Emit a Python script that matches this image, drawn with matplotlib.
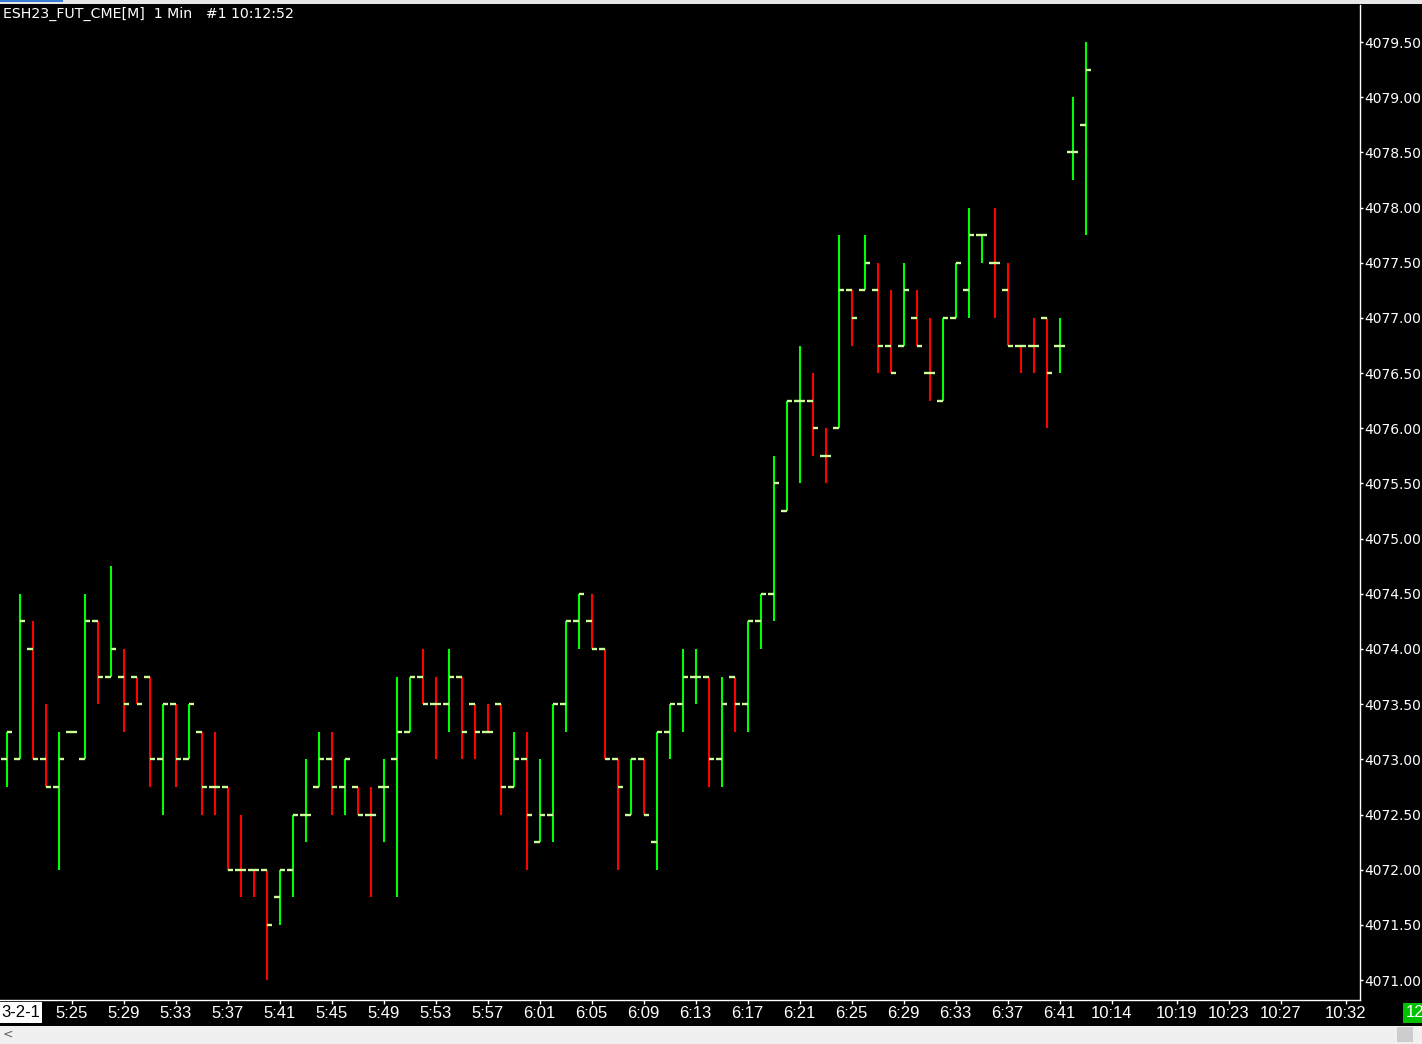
import numpy as np
import matplotlib
matplotlib.use("Agg")
import matplotlib.pyplot as plt
import matplotlib.patches as mpatches
from matplotlib.ticker import FormatStrFormatter

# 1 minute bars, ESH23, starting 5:20
opens = [4073.00, 4073.00, 4074.00, 4073.00, 4072.75, 4073.25, 4073.00, 4074.25, 4073.75, 4073.75,
         4073.75, 4073.75, 4073.00, 4073.50, 4073.00, 4073.25, 4072.75, 4072.75, 4072.00, 4072.00,
         4072.00, 4071.75, 4072.00, 4072.50, 4072.75, 4073.00, 4072.75, 4072.75, 4072.50, 4072.75,
         4073.00, 4073.25, 4073.75, 4073.50, 4073.50, 4073.75, 4073.50, 4073.25, 4073.50, 4072.75,
         4073.00, 4072.25, 4072.50, 4073.50, 4074.25, 4074.25, 4074.00, 4073.00, 4072.50, 4073.00,
         4072.25, 4073.25, 4073.50, 4073.75, 4073.75, 4073.00, 4073.75, 4073.50, 4074.25, 4074.50,
         4075.25, 4076.25, 4076.25, 4075.75, 4076.00, 4077.25, 4077.25, 4077.25, 4076.75, 4076.75,
         4077.00, 4076.50, 4076.25, 4077.00, 4077.25, 4077.75, 4077.50, 4077.25, 4076.75, 4076.75,
         4077.00, 4076.75, 4078.50, 4078.75]
highs = [4073.25, 4074.50, 4074.25, 4073.50, 4073.25, 4073.25, 4074.50, 4074.25, 4074.75, 4074.00,
         4073.75, 4073.75, 4073.50, 4073.50, 4073.50, 4073.25, 4073.25, 4072.75, 4072.50, 4072.00,
         4072.00, 4072.00, 4072.50, 4073.00, 4073.25, 4073.25, 4073.00, 4072.75, 4072.75, 4073.00,
         4073.75, 4073.75, 4074.00, 4073.75, 4074.00, 4073.75, 4073.50, 4073.50, 4073.50, 4073.25,
         4073.25, 4073.00, 4073.50, 4074.25, 4074.50, 4074.50, 4074.00, 4073.00, 4073.00, 4073.00,
         4073.25, 4073.50, 4074.00, 4074.00, 4073.75, 4073.75, 4073.75, 4074.25, 4074.50, 4075.75,
         4076.25, 4076.75, 4076.50, 4076.00, 4077.75, 4077.25, 4077.75, 4077.50, 4077.25, 4077.50,
         4077.25, 4077.00, 4077.00, 4077.50, 4078.00, 4077.75, 4078.00, 4077.50, 4076.75, 4077.00,
         4077.00, 4077.00, 4079.00, 4079.50]
lows = [4072.75, 4073.00, 4073.00, 4072.75, 4072.00, 4073.25, 4073.00, 4073.50, 4073.75, 4073.25,
        4073.50, 4072.75, 4072.50, 4072.75, 4073.00, 4072.50, 4072.50, 4072.00, 4071.75, 4071.75,
        4071.00, 4071.50, 4071.75, 4072.25, 4072.75, 4072.50, 4072.50, 4072.50, 4071.75, 4072.25,
        4071.75, 4073.25, 4073.50, 4073.00, 4073.25, 4073.00, 4073.00, 4073.25, 4072.50, 4072.75,
        4072.00, 4072.25, 4072.25, 4073.25, 4074.00, 4074.00, 4073.00, 4072.00, 4072.50, 4072.50,
        4072.00, 4073.00, 4073.25, 4073.50, 4072.75, 4072.75, 4073.25, 4073.25, 4074.00, 4074.25,
        4075.25, 4075.50, 4075.75, 4075.50, 4076.00, 4076.75, 4077.25, 4076.50, 4076.50, 4076.75,
        4076.75, 4076.25, 4076.25, 4077.00, 4077.00, 4077.50, 4077.00, 4076.75, 4076.50, 4076.50,
        4076.00, 4076.50, 4078.25, 4077.75]
closes = [4073.25, 4074.25, 4073.00, 4072.75, 4073.00, 4073.25, 4074.25, 4073.75, 4074.00, 4073.50,
          4073.50, 4073.00, 4073.50, 4073.00, 4073.50, 4072.75, 4072.75, 4072.00, 4072.00, 4072.00,
          4071.50, 4072.00, 4072.50, 4072.50, 4073.00, 4072.75, 4073.00, 4072.50, 4072.50, 4072.75,
          4073.25, 4073.75, 4073.50, 4073.50, 4073.75, 4073.25, 4073.25, 4073.25, 4072.75, 4073.00,
          4072.50, 4072.50, 4073.50, 4074.25, 4074.50, 4074.00, 4073.00, 4072.75, 4073.00, 4072.50,
          4073.25, 4073.50, 4073.75, 4073.75, 4073.00, 4073.50, 4073.50, 4074.25, 4074.50, 4075.50,
          4076.25, 4076.25, 4076.00, 4075.75, 4077.25, 4077.00, 4077.50, 4076.75, 4076.50, 4077.25,
          4076.75, 4076.50, 4077.00, 4077.50, 4077.75, 4077.75, 4077.50, 4076.75, 4076.75, 4076.75,
          4076.50, 4076.75, 4078.50, 4079.25]

time_labels = ["5:25", "5:29", "5:33", "5:37", "5:41", "5:45", "5:49", "5:53", "5:57", "6:01",
               "6:05", "6:09", "6:13", "6:17", "6:21", "6:25", "6:29", "6:33", "6:37", "6:41",
               "10:14", "10:19", "10:23", "10:27", "10:32"]
label_bars = [5, 9, 13, 17, 21, 25, 29, 33, 37, 41, 45, 49, 53, 57, 61, 65, 69, 73, 77, 81,
              85, 90, 94, 98, 103]
price_ticks = np.arange(4071.0, 4079.51, 0.5)

title = "ESH23_FUT_CME[M]  1 Min   #1 10:12:52"

UP = "#00ff00"
DOWN = "#ff0000"
TICK = "#ccff99"
TIME_FONT = ["Liberation Sans Narrow", "Liberation Sans", "DejaVu Sans"]

W, H = 1422, 1044


def fx(px):
    return px / W


def fy(py):
    return 1 - py / H


# bar colour: close vs open, then close vs previous close, then keep previous colour
colors = []
for i in range(len(opens)):
    if closes[i] > opens[i]:
        c = UP
    elif closes[i] < opens[i]:
        c = DOWN
    elif i > 0 and closes[i] > closes[i - 1]:
        c = UP
    elif i > 0 and closes[i] < closes[i - 1]:
        c = DOWN
    else:
        c = colors[-1] if colors else UP
    colors.append(c)

fig = plt.figure(figsize=(W / 100, H / 100), dpi=100, facecolor="black")

ax = fig.add_axes([0, fy(1000), 1360 / W, 995 / H], facecolor="black")

x = np.arange(len(opens))
ax.vlines(x, lows, highs, colors=colors, linewidth=1.5, capstyle="butt", zorder=2)
tw = 0.44
ax.hlines(opens, x - tw, x, colors=TICK, linewidth=1.7, capstyle="butt", zorder=3)
ax.hlines(closes, x, x + tw, colors=TICK, linewidth=1.7, capstyle="butt", zorder=3)

ax.set_xlim(-0.515, 104.1)
ax.set_ylim(4070.819, 4079.836)

for s in ["top", "left"]:
    ax.spines[s].set_visible(False)
for s in ["right", "bottom"]:
    ax.spines[s].set_color("white")
    ax.spines[s].set_linewidth(1)

ax.yaxis.tick_right()
ax.set_yticks(price_ticks)
ax.yaxis.set_major_formatter(FormatStrFormatter("%.2f"))
ax.tick_params(axis="y", colors="white", labelsize=10, length=2, width=1, pad=1)

ax.set_xticks(label_bars)
ax.set_xticklabels(time_labels, family=TIME_FONT, fontsize=12)
ax.tick_params(axis="x", colors="white", length=3, width=1, pad=1.5)

# title
fig.text(fx(3), fy(18), title, color="white", fontsize=10.2, va="baseline", ha="left")

# top window strip
fig.add_artist(mpatches.Rectangle((0, fy(4)), 1, 4 / H, transform=fig.transFigure,
                                  facecolor="#e6e6e6", edgecolor="none"))
fig.add_artist(mpatches.Rectangle((0, fy(2)), fx(63), 2 / H, transform=fig.transFigure,
                                  facecolor="#3a7bd5", edgecolor="none"))

# date label at the left of the time scale
fig.add_artist(mpatches.Rectangle((0, fy(1023)), fx(42), 21 / H, transform=fig.transFigure,
                                  facecolor="white", edgecolor="none"))
fig.text(fx(1), fy(1012.5), "3-2-1", color="black", fontsize=12, va="center", ha="left",
         family=TIME_FONT)

# current bar time box
fig.add_artist(mpatches.Rectangle((fx(1403), fy(1023)), fx(19), 20 / H, transform=fig.transFigure,
                                  facecolor="#00c000", edgecolor="none"))
fig.text(fx(1406), fy(1012.5), "12", color="white", fontsize=12, va="center", ha="left",
         family=TIME_FONT)

# scroll bar strip
fig.add_artist(mpatches.Rectangle((0, 0), 1, 18 / H, transform=fig.transFigure,
                                  facecolor="#f0f0f0", edgecolor="none"))
fig.add_artist(mpatches.Rectangle((fx(1397), fy(1042)), fx(16), 15 / H, transform=fig.transFigure,
                                  facecolor="#cdcdcd", edgecolor="none"))
fig.text(fx(3), fy(1034), "<", color="#606060", fontsize=9, va="center", ha="left")

fig.savefig("out.png", dpi=100, facecolor="black")
